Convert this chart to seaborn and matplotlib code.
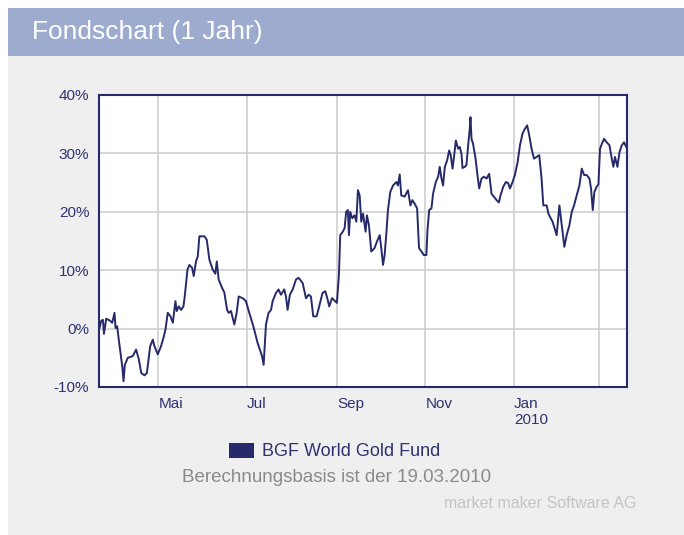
import numpy as np
import pandas as pd
import matplotlib
matplotlib.use("Agg")
import matplotlib.pyplot as plt
from matplotlib.patches import Rectangle
import seaborn as sns

# ---- data (days after 2009-03-19, performance in %) ----
start_date = "2009-03-19"
days = [2.4, 3.5, 4.7, 5.4, 7.0, 9.3, 11.1, 12.7, 13.4, 14.5, 16.2, 18.0, 18.9, 19.8,
        21.9, 25.3, 27.6, 29.5, 31.1, 33.4, 35.0, 37.3, 39.1, 40.2, 42.5, 44.8, 46.4,
        47.8, 49.4, 51.3, 52.9, 54.7, 55.6, 57.0, 58.6, 60.2, 61.1, 63.0, 64.3, 66.2,
        67.3, 68.9, 70.1, 71.2, 74.7, 76.3, 78.1, 80.4, 82.2, 83.2, 84.5, 86.8, 88.4,
        90.3, 91.4, 93.0, 95.3, 96.9, 98.3, 101.1, 103.3, 105.6, 108.4, 111.4, 114.4,
        115.5, 117.1, 118.9, 120.6, 121.7, 124.0, 125.8, 127.4, 129.7, 130.9, 132.0,
        133.6, 135.5, 137.8, 139.6, 142.4, 144.7, 146.5, 148.1, 149.7, 152.0, 153.8,
        156.1, 158.0, 159.6, 160.7, 162.6, 164.8, 166.0,
        167.4, 168.3, 170.1, 171.3, 172.4, 173.6, 174.3, 175.2, 176.6, 178.2, 179.4,
        180.5, 181.7, 182.8, 184.0, 185.8, 186.7, 188.1, 189.7, 192.0, 193.6, 195.5,
        196.6, 197.8, 198.9, 200.1, 201.2, 202.8, 204.7, 207.0, 208.1, 209.3, 210.4,
        212.7, 215.0, 216.7, 218.0, 219.6, 221.3, 222.6, 224.3, 225.9, 227.7, 228.4,
        229.6, 231.2, 232.3, 234.2, 235.8, 236.9, 238.1, 239.2, 240.4, 242.0, 243.4,
        244.5, 245.7, 246.6, 248.0, 249.6, 250.7, 251.9, 252.6, 254.2, 255.3, 256.5,
        257.6, 258.1, 258.8, 259.9, 261.6, 262.9, 264.1, 265.7, 267.3, 269.2, 271.0,
        272.6, 274.2, 276.1, 277.7, 278.8, 280.7, 282.5, 284.1, 285.3, 287.1, 288.7,
        290.6, 292.2, 294.0, 295.6, 297.2, 298.6, 300.2, 301.9, 303.7, 305.5, 307.1,
        308.3, 310.6, 311.8, 313.4, 314.7, 316.4, 317.5, 319.4, 321.0, 322.8, 324.4,
        326.3, 327.9, 329.5, 331.3, 333.2, 334.8, 336.4, 338.2, 340.1, 341.2, 342.4,
        343.5, 345.1, 346.3, 347.4, 348.6, 350.2, 352.0, 353.9, 355.5, 356.6, 357.7,
        359.4, 360.8, 362.4, 364.0, 365.4]
perf = [0.1, 1.3, 1.5, -0.9, 1.7, 1.4, 1.0, 2.7, 0.1, 0.4, -3.0, -6.4, -9.0, -6.2,
        -5.0, -4.7, -3.6, -5.3, -7.6, -8.0, -7.6, -3.0, -1.9, -3.0, -4.4, -3.0, -1.6,
        -0.2, 2.7, 2.1, 1.0, 4.7, 3.0, 3.8, 3.2, 3.8, 5.5, 10.1, 10.9, 10.4,
        9.0, 11.5, 12.4, 15.8, 15.8, 15.2, 11.8, 10.1, 9.4, 11.5, 8.4, 7.0, 6.2,
        3.2, 2.7, 3.0, 0.7, 2.7, 5.5, 5.2, 4.7, 2.7, 0.4, -2.5, -4.7,
        -6.2, 0.7, 2.7, 3.2, 4.7, 6.1, 6.7, 5.8, 6.7, 5.5, 3.2,
        5.8, 6.7, 8.4, 8.7, 7.8, 5.2, 5.8, 5.5, 2.1, 2.1, 3.8,
        6.1, 6.4, 5.0, 3.8, 5.2, 4.7, 4.4,
        9.2, 16.0, 16.6, 17.2, 20.0, 20.3, 16.0, 20.0, 18.9, 19.4, 18.3,
        23.7, 22.8, 18.3, 19.7, 16.6, 19.4, 17.7, 13.2, 13.8, 14.9, 16.0,
        13.8, 10.9, 12.6, 16.3, 20.3, 23.4, 24.5, 25.1, 24.5, 26.4, 22.8,
        22.6, 23.7, 21.1, 22.0, 21.4, 20.6, 13.8, 13.2, 12.6, 12.6, 16.6,
        20.3, 20.6, 23.1, 25.1, 26.0, 27.7, 25.7, 24.5, 27.7, 28.8, 30.5,
        29.7, 27.4, 29.1, 32.2, 30.8, 31.1, 29.9, 27.5, 27.7, 28.0, 31.4,
        34.2, 36.2, 32.5, 31.6, 29.1, 26.3, 24.0, 25.7, 26.0, 25.7, 26.5,
        23.1, 22.6, 22.0, 21.6, 22.8, 24.3, 25.1, 24.9, 24.0, 25.1, 26.3,
        28.5, 31.4, 33.4, 34.2, 34.8, 33.1, 30.8, 29.1, 29.4, 29.7, 25.7,
        21.1, 21.1, 19.7, 18.9, 18.3, 16.9, 16.0, 21.1, 17.7, 14.0, 16.0,
        17.7, 20.0, 21.1, 22.8, 24.5, 27.4, 26.3, 26.3, 25.7, 24.0, 20.3,
        23.4, 24.3, 24.7, 30.8, 31.6, 32.5, 31.9, 31.4, 29.1, 27.7, 29.4,
        27.7, 30.2, 31.4, 31.9, 31.1]
series_name = "BGF World Gold Fund"
y_ticks = [-10, 0, 10, 20, 30, 40]
x_tick_dates = ["2009-05-01", "2009-07-01", "2009-09-01", "2009-11-01", "2010-01-01", "2010-03-01"]
x_tick_labels = ["Mai", "Jul", "Sep", "Nov", "Jan\n2010", ""]
x_range = ["2009-03-21", "2010-03-20"]

df = pd.DataFrame({
    "date": pd.Timestamp(start_date) + pd.to_timedelta(days, unit="D"),
    "perf": perf,
})

NAVY = "#262a6b"
TXT = "#2e3270"

sns.set_style("white")
plt.rcParams["font.family"] = ["Liberation Sans", "DejaVu Sans"]

W, H = 684, 535
fig = plt.figure(figsize=(W / 100, H / 100), dpi=100)
fig.patch.set_facecolor("white")

# background panel and header band
fig.patches.append(Rectangle((8 / W, 0), 1 - 8 / W, 1 - 8 / H, transform=fig.transFigure,
                             facecolor="#efefef", edgecolor="none", zorder=-2))
fig.patches.append(Rectangle((8 / W, 1 - 56 / H), 1 - 8 / W, 48 / H, transform=fig.transFigure,
                             facecolor="#9dabcf", edgecolor="none", zorder=-1))
fig.text(32 / W, 1 - 32 / H, "Fondschart (1 Jahr)", color="white", fontsize=19,
         va="center", ha="left")

# plot area
left, right, top, bottom = 99, 627, 95, 387
ax = fig.add_axes([left / W, 1 - bottom / H, (right - left) / W, (bottom - top) / H])
ax.set_zorder(5)
ax.set_facecolor("white")

sns.lineplot(data=df, x="date", y="perf", ax=ax, color=NAVY, linewidth=1.4,
             estimator=None, sort=False, legend=False)

ax.set_xlim(pd.Timestamp(x_range[0]), pd.Timestamp(x_range[1]))
ax.set_ylim(-10, 40)
ax.set_yticks(y_ticks)
ax.set_yticklabels([f"{v}%" for v in y_ticks])
ax.set_yticks(np.arange(-5, 40, 10), minor=True)
ax.set_xticks([pd.Timestamp(d) for d in x_tick_dates])
ax.set_xticklabels(x_tick_labels, ha="left")
ax.set_xlabel("")
ax.set_ylabel("")

ax.grid(True, which="major", color="#cfcfcf", linewidth=1.2)
ax.set_axisbelow(True)
for s in ax.spines.values():
    s.set_color(NAVY)
    s.set_linewidth(1.5)
ax.tick_params(axis="both", which="major", direction="out", length=5, width=1,
               color=NAVY, labelcolor=TXT, labelsize=11)
ax.tick_params(axis="x", which="major", pad=2)
ax.tick_params(axis="y", which="major", pad=2)
ax.tick_params(axis="y", which="minor", direction="out", length=3, width=1, color=NAVY)
for lbl in ax.get_xticklabels():
    lbl.set_horizontalalignment("left")
    lbl.set_linespacing(1.25)

# legend & footer texts
fig.patches.append(Rectangle((229 / W, 1 - 458 / H), 25 / W, 15 / H, transform=fig.transFigure,
                             facecolor=NAVY, edgecolor="none", zorder=3))
fig.text(262 / W, 1 - 451 / H, series_name, color=TXT, fontsize=13, va="center", ha="left")
fig.text(337 / W, 1 - 478 / H, "Berechnungsbasis ist der 19.03.2010", color="#8a8a8a",
         fontsize=13.5, va="center", ha="center")
fig.text(637 / W, 1 - 504 / H, "market maker Software AG", color="#c4c4c4",
         fontsize=11.5, va="center", ha="right")

fig.savefig("out.png", dpi=100, facecolor=fig.get_facecolor())
